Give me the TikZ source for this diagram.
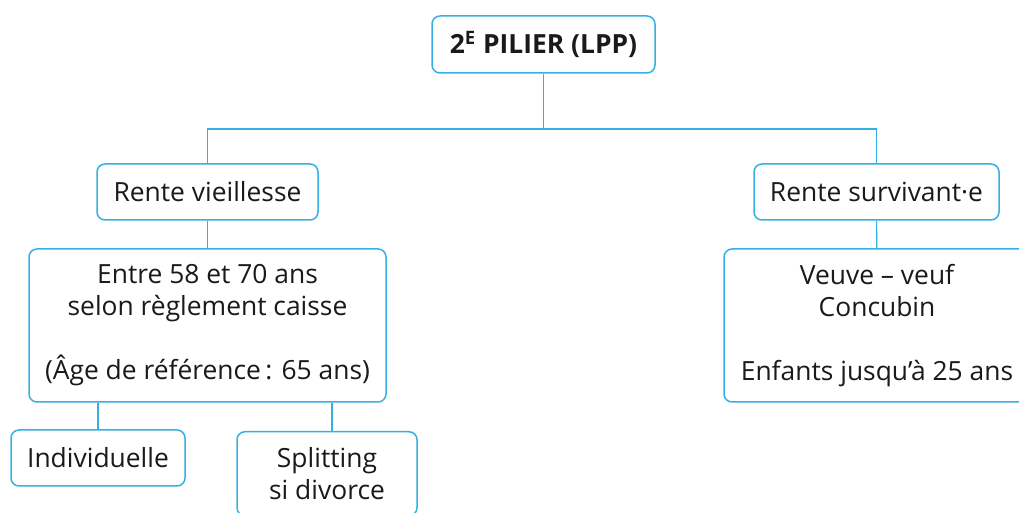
\documentclass[tikz,border=0pt]{standalone}
\usepackage{fontspec}
\setmainfont{Open Sans}
\usetikzlibrary{positioning, calc}
\definecolor{lppblue}{RGB}{52,176,228}
\definecolor{lpptext}{RGB}{26,26,26}

\begin{document}
\begin{tikzpicture}[
    x=0.5pt, y=-0.5pt,
    box/.style={rectangle, draw=lppblue, line width=0.75pt, rounded corners=4pt,
                fill=white, text=lpptext, align=center, inner sep=0pt,
                font=\fontsize{13.2}{16}\selectfont},
    conn/.style={draw=lppblue, line width=0.6pt},
]
\useasboundingbox (0,0) rectangle (1019,513);
\node[box, minimum width=111.5pt, minimum height=28.5pt, font=\fontsize{13.2}{16}\selectfont\bfseries]
    (top) at (543.5,44.5) {2\textsuperscript{E} PILIER (LPP)};
\coordinate (hub) at (543.5,129);
\node[box, minimum width=110.5pt, minimum height=28pt] (vieil) at (207.5,192) {Rente vieillesse};
\node[box, minimum width=122.5pt, minimum height=28pt] (surv) at (876.5,192) {Rente survivant·e};
\node[box, minimum width=178.5pt, minimum height=76.5pt] (age) at (207.5,325.5)
    {Entre 58 et 70 ans\\selon règlement caisse\\[16pt](Âge de référence\,: 65 ans)};
\node[box, minimum width=153pt, minimum height=76.5pt] (ayants) at (877,325.5)
    {Veuve – veuf\\Concubin\\[16pt]Enfants jusqu’à 25 ans};
\node[box, minimum width=87pt, minimum height=28pt] (indiv) at (98,458) {Individuelle};
\node[box, minimum width=90pt, minimum height=42pt, anchor=north] (split) at (327,431)
    {Splitting\\si divorce};
\coordinate (splitin) at (332,431);
\draw[conn] (top) -- (hub);
\draw[conn] (hub) -| (vieil);
\draw[conn] (hub) -| (surv);
\draw[conn] (vieil) -- (age);
\draw[conn] (surv) -- (ayants);
\draw[conn] (age.south -| indiv) -- (indiv);
\draw[conn] (age.south -| splitin) -- (splitin);
\end{tikzpicture}
\end{document}
